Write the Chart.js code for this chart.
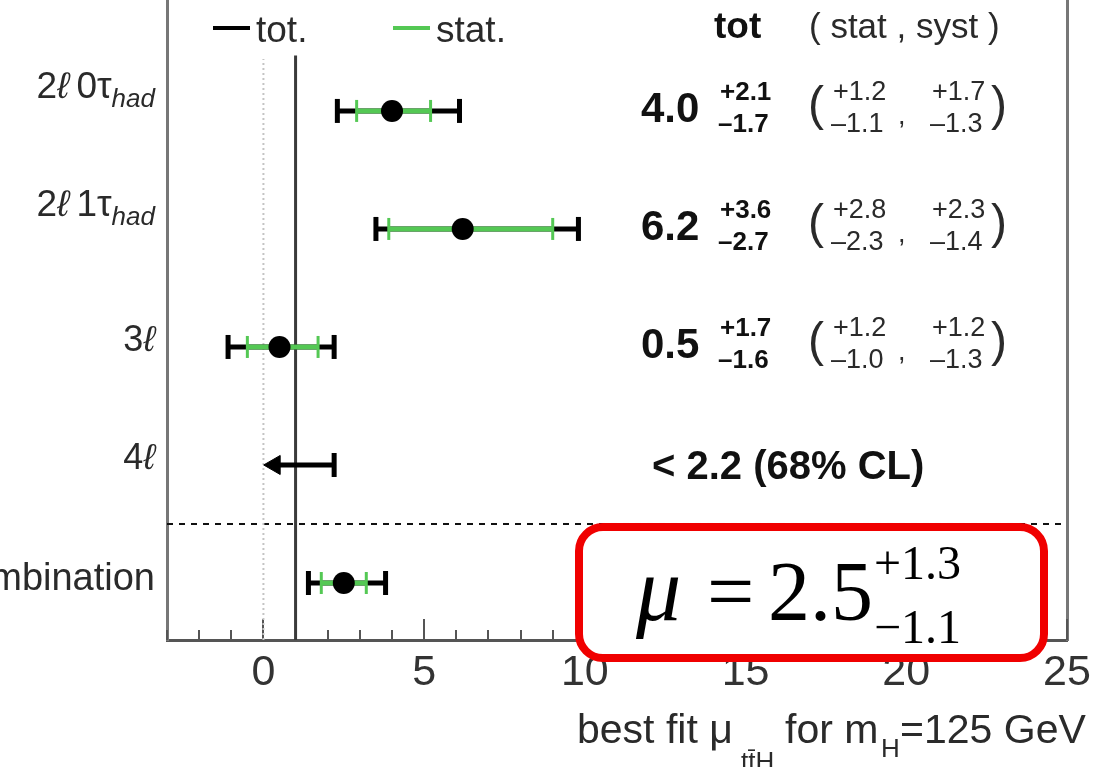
<!DOCTYPE html>
<html>
<head>
<meta charset="utf-8">
<script src="https://cdn.jsdelivr.net/npm/chart.js@4"></script>
<style>
  html, body { margin: 0; padding: 0; background: #fff; }
</style>
</head>
<body>
<canvas id="myChart" width="1099" height="767"></canvas>
<script>
// Data
const channels = ['2ℓ0τ', '2ℓ1τ', '3ℓ', '4ℓ', 'Combination'];
const channelSub = ['had', 'had', '', '', ''];
const muBest = [4.0, 6.2, 0.5, null, 2.5];
const totUp = [2.1, 3.6, 1.7, null, 1.3];
const totDown = [1.7, 2.7, 1.6, null, 1.1];
const statUp = [1.2, 2.8, 1.2, null, 0.7];
const statDown = [1.1, 2.3, 1.0, null, 0.7];
const systUp = [1.7, 2.3, 1.2, null, null];
const systDown = [1.3, 1.4, 1.3, null, null];
const limit4l = 2.2;      // < 2.2 (68% CL)
const limitArrowTo = 0.35; // where the arrow of the limit is drawn
const xTicks = [0, 5, 10, 15, 20, 25];
const xMin = -3, xMax = 25;
const yMin = -0.483, yMax = 4.94;
const smMu = 1;
const refLineTop = 4.47;
const separatorY = 0.5;

const SANS = '"Liberation Sans", Arial, Helvetica, sans-serif';
const SERIF = '"Liberation Serif", "Times New Roman", serif';
const GREEN = '#54c854';

const rowY = i => channels.length - 1 - i;

// datasets
const datasets = [];

// central values
datasets.push({
  data: muBest.map((m, i) => m === null ? null : { x: m, y: rowY(i) }).filter(p => p),
  pointRadius: 11,
  pointBackgroundColor: '#000',
  pointBorderColor: '#000',
  pointBorderWidth: 0,
  order: 0
});

muBest.forEach((m, i) => {
  if (m === null) return;
  const y = rowY(i);
  datasets.push({
    data: [{ x: m - statDown[i], y }, { x: m + statUp[i], y }],
    showLine: true,
    borderColor: GREEN,
    borderWidth: 5,
    pointStyle: 'line',
    rotation: 90,
    pointRadius: 11,
    pointBorderWidth: 3,
    pointBorderColor: GREEN,
    order: 1
  });
  datasets.push({
    data: [{ x: m - totDown[i], y }, { x: m + totUp[i], y }],
    showLine: true,
    borderColor: '#000',
    borderWidth: 5,
    pointStyle: 'line',
    rotation: 90,
    pointRadius: 12,
    pointBorderWidth: 5,
    pointBorderColor: '#000',
    order: 2
  });
});

// 4l upper limit with arrow
datasets.push({
  data: [{ x: limitArrowTo, y: rowY(3) }, { x: limit4l, y: rowY(3) }],
  showLine: true,
  borderColor: '#000',
  borderWidth: 5,
  pointStyle: ['triangle', 'line'],
  rotation: [270, 90],
  pointRadius: [11, 12],
  pointBorderWidth: [1, 5],
  pointBackgroundColor: '#000',
  pointBorderColor: '#000',
  order: 2
});

// SM line, zero line, separator
datasets.push({
  data: [{ x: smMu, y: yMin }, { x: smMu, y: refLineTop }],
  showLine: true, borderColor: '#3a3a3a', borderWidth: 3, pointRadius: 0, order: 5
});
datasets.push({
  data: [{ x: 0, y: yMin }, { x: 0, y: refLineTop - 0.03 }],
  showLine: true, borderColor: '#c4c4c4', borderWidth: 2, borderDash: [2, 3], pointRadius: 0, order: 6
});
datasets.push({
  data: [{ x: xMin, y: separatorY }, { x: xMax, y: separatorY }],
  showLine: true, borderColor: '#111', borderWidth: 2, borderDash: [6, 6], pointRadius: 0, order: 6
});

// text helpers
function txt(ctx, s, x, y, size, opts = {}) {
  ctx.font = `${opts.italic ? 'italic ' : ''}${opts.bold ? 'bold ' : ''}${size}px ${opts.family || SANS}`;
  ctx.fillStyle = opts.color || '#1a1a1a';
  ctx.textAlign = opts.align || 'left';
  ctx.textBaseline = 'alphabetic';
  ctx.fillText(s, x, y);
  return ctx.measureText(s).width;
}

function width(ctx, s, size, opts = {}) {
  ctx.font = `${opts.italic ? 'italic ' : ''}${opts.bold ? 'bold ' : ''}${size}px ${opts.family || SANS}`;
  return ctx.measureText(s).width;
}

const overlay = {
  id: 'overlay',
  beforeDatasetsDraw(chart) {
    const { ctx, chartArea, scales } = chart;
    ctx.save();
    ctx.strokeStyle = '#555';
    ctx.lineWidth = 2;
    for (let v = xMin; v <= xMax; v++) {
      const px = Math.round(scales.x.getPixelForValue(v));
      const len = v % 5 === 0 ? 21 : 10;
      ctx.beginPath();
      ctx.moveTo(px, chartArea.bottom);
      ctx.lineTo(px, chartArea.bottom - len);
      ctx.stroke();
    }
    ctx.restore();
  },
  afterDraw(chart) {
    const { ctx, scales } = chart;
    ctx.save();
    const lab = '#2a2a2a';

    // channel labels
    channels.forEach((name, i) => {
      const yp = scales.y.getPixelForValue(rowY(i));
      const sub = channelSub[i];
      const base = sub ? yp - 13 : yp + 4;
      const right = 155;
      if (sub) {
        const parts = [['2', false], ['ℓ', true], ['\u2009' + name.slice(2), false]];
        let w = 0;
        parts.forEach(p => { w += width(ctx, p[0], 37, { italic: p[1] }); });
        const ws = width(ctx, sub, 26, { italic: true });
        let x = right - w - ws;
        parts.forEach(p => { x += txt(ctx, p[0], x, base, 37, { italic: p[1], color: lab }); });
        txt(ctx, sub, x, base + 9, 26, { italic: true, color: lab });
      } else if (name.includes('ℓ')) {
        const w1 = width(ctx, name[0], 36);
        const w2 = width(ctx, 'ℓ', 36, { italic: true });
        let x = right - w1 - w2;
        x += txt(ctx, name[0], x, base, 36, { color: lab });
        txt(ctx, 'ℓ', x, base, 36, { italic: true, color: lab });
      } else {
        txt(ctx, name, right, yp + 7, 38, { align: 'right', color: lab });
      }
    });

    // legend
    ctx.lineWidth = 4;
    ctx.strokeStyle = '#000';
    ctx.beginPath(); ctx.moveTo(213, 28); ctx.lineTo(250, 28); ctx.stroke();
    txt(ctx, 'tot.', 256, 42, 37, { color: lab });
    ctx.strokeStyle = GREEN;
    ctx.beginPath(); ctx.moveTo(393, 28); ctx.lineTo(430, 28); ctx.stroke();
    txt(ctx, 'stat.', 436, 42, 37, { color: lab });

    // column headers
    txt(ctx, 'tot', 714, 38, 37, { bold: true, color: '#111' });
    txt(ctx, '( stat , syst )', 809, 38, 35, { color: lab });

    // value columns
    channels.forEach((name, i) => {
      const yp = scales.y.getPixelForValue(rowY(i));
      if (muBest[i] === null) {
        txt(ctx, '< ' + limit4l.toFixed(1) + ' (68% CL)', 652, yp + 14, 40, { bold: true, color: '#111' });
        return;
      }
      txt(ctx, muBest[i].toFixed(1), 641, yp + 11, 42, { bold: true, color: '#111' });
      txt(ctx, '+' + totUp[i].toFixed(1), 720, yp - 11, 26, { bold: true, color: '#111' });
      txt(ctx, '\u2013' + totDown[i].toFixed(1), 718, yp + 21, 26, { bold: true, color: '#111' });
      if (systUp[i] === null) return;
      txt(ctx, '(', 808, yp + 9, 48, { color: lab });
      txt(ctx, '+' + statUp[i].toFixed(1), 833, yp - 11, 27, { color: lab });
      txt(ctx, '\u2013' + statDown[i].toFixed(1), 831, yp + 21, 27, { color: lab });
      txt(ctx, ',', 898, yp + 13, 27, { color: lab });
      txt(ctx, '+' + systUp[i].toFixed(1), 932, yp - 11, 27, { color: lab });
      txt(ctx, '\u2013' + systDown[i].toFixed(1), 930, yp + 21, 27, { color: lab });
      txt(ctx, ')', 991, yp + 9, 48, { color: lab });
    });

    // x axis title
    txt(ctx, 'best fit \u03bc', 577, 743, 41, { color: lab });
    txt(ctx, 'tt\u0304H', 741, 770, 26, { color: lab });
    txt(ctx, 'for m', 785, 743, 41, { color: lab });
    txt(ctx, 'H', 881, 757, 26, { color: lab });
    txt(ctx, '=125 GeV', 900, 743, 41, { color: lab });

    // result box
    ctx.beginPath();
    ctx.roundRect(579, 527, 465, 131, 24);
    ctx.fillStyle = '#fff';
    ctx.fill();
    ctx.lineWidth = 8;
    ctx.strokeStyle = '#f00000';
    ctx.stroke();

    const comb = channels.length - 1;
    txt(ctx, '\u03bc', 636, 620, 90, { italic: true, family: SERIF, color: '#000' });
    txt(ctx, '=', 707, 620, 84, { family: SERIF, color: '#000' });
    txt(ctx, muBest[comb].toFixed(1), 768, 620, 84, { family: SERIF, color: '#000' });
    txt(ctx, '+' + totUp[comb].toFixed(1), 874, 579, 48, { family: SERIF, color: '#000' });
    txt(ctx, '\u2212' + totDown[comb].toFixed(1), 874, 643, 48, { family: SERIF, color: '#000' });

    ctx.restore();
  }
};

const config = {
  type: 'scatter',
  data: { datasets },
  options: {
    responsive: false,
    animation: false,
    events: [],
    layout: { autoPadding: false, padding: { top: 0, right: 32, left: 0, bottom: 0 } },
    plugins: { legend: { display: false }, tooltip: { enabled: false } },
    scales: {
      x: {
        type: 'linear',
        min: xMin,
        max: xMax,
        afterBuildTicks(scale) { scale.ticks = xTicks.map(v => ({ value: v })); },
        afterFit(scale) { scale.height = 127; },
        grid: { display: false, drawTicks: false },
        border: { display: true, color: '#555', width: 3 },
        ticks: { color: '#333', padding: 7, font: { family: SANS, size: 43 }, maxRotation: 0 }
      },
      y: {
        type: 'linear',
        min: yMin,
        max: yMax,
        afterFit(scale) { scale.width = 167; },
        grid: { display: false, drawTicks: false },
        border: { display: true, color: '#777', width: 3 },
        ticks: { display: false }
      },
      y2: {
        type: 'linear',
        position: 'right',
        min: yMin,
        max: yMax,
        afterFit(scale) { scale.width = 0; },
        grid: { display: false, drawTicks: false },
        border: { display: true, color: '#777', width: 3 },
        ticks: { display: false }
      }
    }
  },
  plugins: [overlay]
};

const myChart = new Chart(document.getElementById('myChart'), config);
</script>
</body>
</html>
